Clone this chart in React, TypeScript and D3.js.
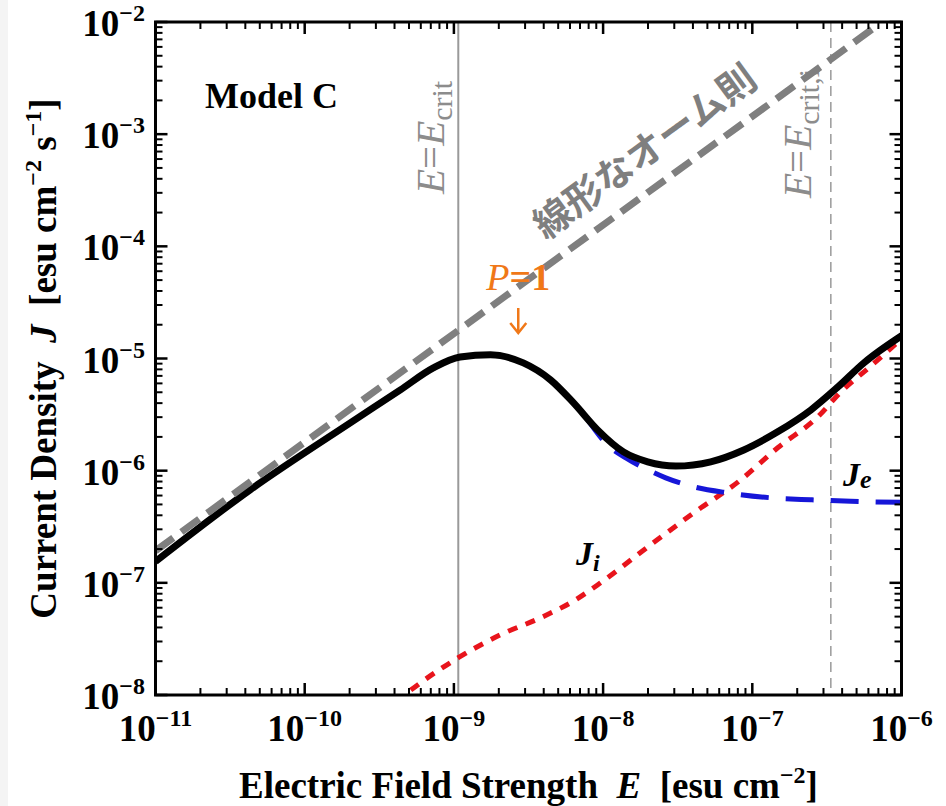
import React from "react";
import * as d3 from "d3";

// Electric field strength E [esu cm^-2] and current densities J [esu cm^-2 s^-1]
const totalE = [1e-11, 4.31e-11, 2.02e-10, 4.38e-10, 7.28e-10, 1.1e-9, 1.76e-9, 2.92e-9, 4.45e-9, 6.34e-9, 9.18e-9, 1.37e-8, 1.99e-8, 3.07e-8, 5.26e-8, 8.77e-8, 1.48e-7, 2.47e-7, 3.75e-7, 5.6e-7, 1.02e-6];
const totalJ = [1.55e-7, 6.75e-7, 2.67e-6, 5.25e-6, 8.24e-6, 1.03e-5, 1.08e-5, 9.14e-6, 6.44e-6, 4.02e-6, 2.31e-6, 1.47e-6, 1.2e-6, 1.1e-6, 1.2e-6, 1.53e-6, 2.22e-6, 3.48e-6, 5.58e-6, 9.14e-6, 1.62e-5];

const electronE = [7.64e-9, 1.07e-8, 1.42e-8, 1.93e-8, 2.63e-8, 4.05e-8, 6.85e-8, 1.33e-7, 2.47e-7, 4.58e-7, 1.02e-6];
const electronJ = [3.02e-6, 1.7e-6, 1.3e-6, 1.04e-6, 8.63e-7, 7.18e-7, 6.34e-7, 5.73e-7, 5.5e-7, 5.33e-7, 5.22e-7];

const ionE = [4.07e-10, 6.0e-10, 1.07e-9, 2.05e-9, 3.81e-9, 6.53e-9, 9.61e-9, 2.08e-8, 4.05e-8, 8.37e-8, 1.48e-7, 2.75e-7, 3.93e-7, 6.24e-7, 1.02e-6];
const ionJ = [8.69e-9, 1.29e-8, 2.15e-8, 3.44e-8, 4.88e-8, 7.05e-8, 1.0e-7, 2.18e-7, 4.21e-7, 8.28e-7, 1.6e-6, 3.02e-6, 5.04e-6, 8.59e-6, 1.53e-5];

// linear Ohm's law reference line
const ohmE = [1e-11, 6.53e-7];
const ohmJ = [1.93e-7, 8.85e-3];

const E_CRIT = 1.07e-9;
const E_CRIT_I = 3.36e-7;
const P1_E = 2.7e-9; // field where P = 1

const xTickExps = [-11, -10, -9, -8, -7, -6];
const yTickExps = [-8, -7, -6, -5, -4, -3, -2];

const W = 946;
const H = 806;
const L = 155.5, R = 901.5, T = 22, B = 695;
const SERIF = "'Liberation Serif', 'Times New Roman', Times, serif";

const zip = (a: number[], b: number[]) => a.map((v, i) => [v, b[i]] as [number, number]);

export default function App() {
  const x = d3.scaleLog().domain([1e-11, 1e-6]).range([L, R]);
  const y = d3.scaleLog().domain([1e-8, 1e-2]).range([B, T]);

  const line = d3
    .line<[number, number]>()
    .x((d) => x(d[0]))
    .y((d) => y(d[1]))
    .curve(d3.curveMonotoneX);

  const straight = d3
    .line<[number, number]>()
    .x((d) => x(d[0]))
    .y((d) => y(d[1]));

  const minor = (lo: number, hi: number) => {
    const out: number[] = [];
    for (let e = lo; e < hi; e++) for (let m = 2; m <= 9; m++) out.push(m * Math.pow(10, e));
    return out;
  };
  const xMinor = minor(-11, -6);
  const yMinor = minor(-8, -2);

  const ohmAngle =
    (Math.atan2(y(ohmJ[1]) - y(ohmJ[0]), x(ohmE[1]) - x(ohmE[0])) * 180) / Math.PI;

  const xc = x(E_CRIT);
  const xci = x(E_CRIT_I);
  const xp = x(P1_E);

  return (
    <svg
      width={W}
      height={H}
      style={{ position: "absolute", left: 0, top: 0, display: "block", background: "#fff" }}
      fontFamily={SERIF}
    >
      <defs>
        <clipPath id="plotArea">
          <rect x={L} y={T} width={R - L} height={B - T} />
        </clipPath>
      </defs>
      <rect x={0} y={0} width={8} height={H} fill="#f4f4f4" />

      {/* critical field markers */}
      <line x1={xc} x2={xc} y1={T} y2={B} stroke="#9a9a9a" strokeWidth={2} />
      <line x1={xci} x2={xci} y1={T} y2={B} stroke="#9a9a9a" strokeWidth={1.5} strokeDasharray="10 6" />

      <text transform={`translate(${xc - 14},194) rotate(-90)`} fill="#8c8c8c" fontSize={41}>
        <tspan fontStyle="italic">E</tspan>
        <tspan>=</tspan>
        <tspan fontStyle="italic">E</tspan>
        <tspan fontSize={30} dy={8}>crit</tspan>
      </text>
      <text transform={`translate(${xci - 20},198) rotate(-90)`} fill="#8c8c8c" fontSize={41}>
        <tspan fontStyle="italic">E</tspan>
        <tspan>=</tspan>
        <tspan fontStyle="italic">E</tspan>
        <tspan fontSize={30} dy={8}>crit,i</tspan>
      </text>

      <g clipPath="url(#plotArea)" fill="none">
        <path d={line(zip(ionE, ionJ)) || ""} stroke="#e8141c" strokeWidth={5} strokeDasharray="10 9" />
        <path d={line(zip(electronE, electronJ)) || ""} stroke="#1616d8" strokeWidth={5} strokeDasharray="28 17" />
        <path d={line(zip(totalE, totalJ)) || ""} stroke="#000" strokeWidth={7} />
        <path d={straight(zip(ohmE, ohmJ)) || ""} stroke="#7f7f7f" strokeWidth={7} strokeDasharray="22 10" />
      </g>

      {/* Ohm's law label along the line */}
      <text
        transform={`translate(643,149) rotate(${ohmAngle})`}
        textAnchor="middle"
        dominantBaseline="central"
        fill="#7f7f7f"
        fontSize={38}
        fontWeight={700}
        fontFamily="'Noto Sans CJK JP', 'Noto Sans CJK SC', sans-serif"
      >
        線形なオーム則
      </text>

      {/* P = 1 marker */}
      <text x={xp} y={290} textAnchor="middle" fill="#f07818" fontSize={38} fontWeight={700}>
        <tspan fontStyle="italic" fontWeight={400}>P</tspan>
        <tspan>=1</tspan>
      </text>
      <g stroke="#f07818" strokeWidth={2.5} fill="none">
        <line x1={xp} x2={xp} y1={308} y2={332} />
        <path d={`M${xp - 8},${323} L${xp},${333} L${xp + 8},${323}`} />
      </g>

      <text x={205} y={108} fontSize={36} fontWeight={700} fill="#000">Model C</text>

      <text x={576} y={565} fontSize={34} fontWeight={700} fontStyle="italic" fill="#000">
        J<tspan fontSize={24} dy={6}>i</tspan>
      </text>
      <text x={843} y={486} fontSize={34} fontWeight={700} fontStyle="italic" fill="#000">
        J<tspan fontSize={26} dy={2}>e</tspan>
      </text>

      {/* frame and ticks */}
      <g stroke="#000">
        {xTickExps.map((e) => {
          const px = x(Math.pow(10, e));
          return (
            <g key={"xM" + e} strokeWidth={2.5}>
              <line x1={px} x2={px} y1={B} y2={B - 12} />
              <line x1={px} x2={px} y1={T} y2={T + 12} />
            </g>
          );
        })}
        {xMinor.map((v, i) => {
          const px = x(v);
          return (
            <g key={"xm" + i} strokeWidth={2}>
              <line x1={px} x2={px} y1={B} y2={B - 7} />
              <line x1={px} x2={px} y1={T} y2={T + 7} />
            </g>
          );
        })}
        {yTickExps.map((e) => {
          const py = y(Math.pow(10, e));
          return (
            <g key={"yM" + e} strokeWidth={2.5}>
              <line x1={L} x2={L + 12} y1={py} y2={py} />
              <line x1={R} x2={R - 12} y1={py} y2={py} />
            </g>
          );
        })}
        {yMinor.map((v, i) => {
          const py = y(v);
          return (
            <g key={"ym" + i} strokeWidth={2}>
              <line x1={L} x2={L + 7} y1={py} y2={py} />
              <line x1={R} x2={R - 7} y1={py} y2={py} />
            </g>
          );
        })}
        <rect x={L} y={T} width={R - L} height={B - T} fill="none" strokeWidth={3} />
      </g>

      {/* tick labels */}
      <g fontSize={37} fontWeight={700} fill="#000">
        {xTickExps.map((e) => (
          <text key={"xl" + e} x={x(Math.pow(10, e))} y={741} textAnchor="middle">
            10<tspan fontSize={24} dy={-15}>{"\u2212" + Math.abs(e)}</tspan>
          </text>
        ))}
        {yTickExps.map((e) => (
          <text key={"yl" + e} x={145} y={y(Math.pow(10, e)) + 14} textAnchor="end">
            10<tspan fontSize={24} dy={-15}>{"\u2212" + Math.abs(e)}</tspan>
          </text>
        ))}
      </g>

      {/* axis titles */}
      <text x={(L + R) / 2} y={798} textAnchor="middle" fontSize={37} fontWeight={700} fill="#000">
        Electric Field Strength{"\u00a0\u00a0"}
        <tspan fontStyle="italic">E</tspan>
        {"\u00a0\u00a0"}[esu cm<tspan fontSize={24} dy={-15}>{"\u22122"}</tspan>
        <tspan dy={15}>]</tspan>
      </text>
      <text
        transform={`translate(56,${(T + B) / 2}) rotate(-90)`}
        textAnchor="middle"
        fontSize={37}
        fontWeight={700}
        fill="#000"
      >
        Current Density{"\u00a0\u00a0"}
        <tspan fontStyle="italic">J</tspan>
        {"\u00a0\u00a0"}[esu cm<tspan fontSize={24} dy={-15}>{"\u22122"}</tspan>
        <tspan dy={15}>{"\u00a0s"}</tspan>
        <tspan fontSize={24} dy={-15}>{"\u22121"}</tspan>
        <tspan dy={15}>]</tspan>
      </text>
    </svg>
  );
}
